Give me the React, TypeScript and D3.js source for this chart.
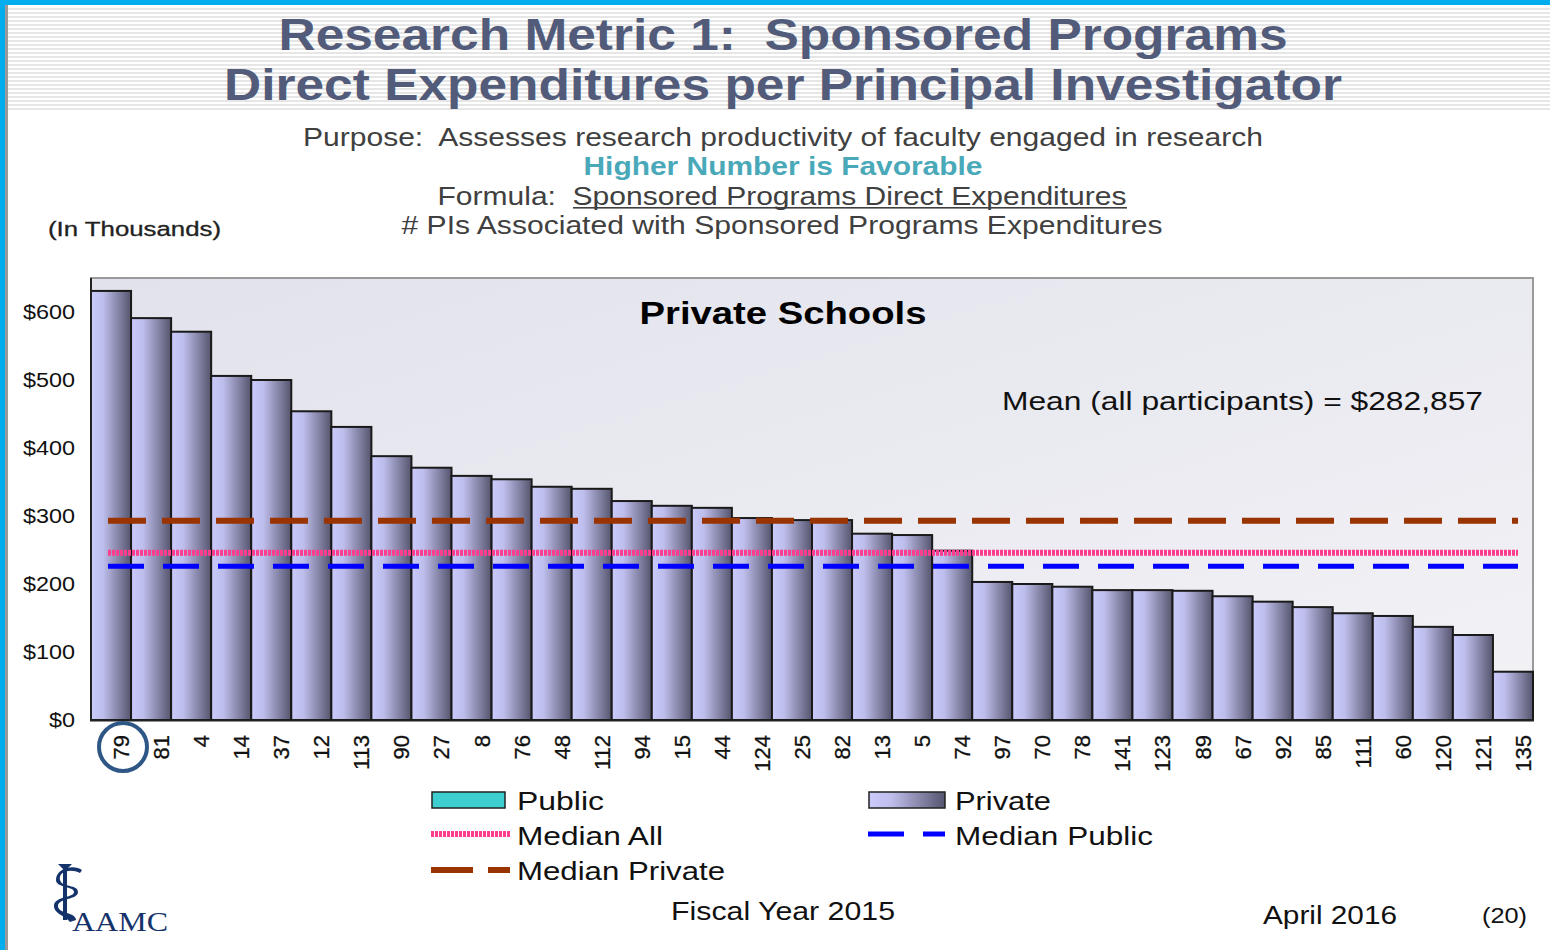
import React from 'react'
import * as d3 from 'd3'

// school ids along the x axis, values in thousands of dollars
const schools = ['79', '81', '4', '14', '37', '12', '113', '90', '27', '8', '76', '48', '112', '94', '15', '44', '124', '25', '82', '13', '5', '74', '97', '70', '78', '141', '123', '89', '67', '92', '85', '111', '60', '120', '121', '135']
const values = [631, 591, 571, 506, 500, 454, 431, 388, 371, 359, 354, 343, 340, 322, 315, 312, 297, 294, 294, 274, 272, 249, 203, 200, 196, 191, 191, 190, 182, 174, 166, 157, 153, 137, 125, 71]
const yTicks = [0, 100, 200, 300, 400, 500, 600]
const medianNames = ['Median Private', 'Median All', 'Median Public']
const medianValues = [293, 246, 226]

const FONT = '"Liberation Sans", Arial, sans-serif'

const x = d3.scaleBand<string>().domain(schools).range([91, 1533]).padding(0)
const y = d3.scaleLinear().domain([0, 650]).range([720, 278])

const lineStyle: Record<string, { color: string; width: number; dash: string }> = {
  'Median Private': { color: '#993300', width: 6, dash: '38 16' },
  'Median All': { color: '#ff3d8e', width: 6, dash: '3 1' },
  'Median Public': { color: '#0000ff', width: 5, dash: '36 19' },
}

const stripes = d3.range(8, 110, 4)
const pre = { whiteSpace: 'pre' as const }

export default function App() {
  return (
    <div style={{ position: 'absolute', left: 0, top: 0 }}>
      <svg width={1550} height={950} style={{ display: 'block', background: '#fff' }}>
        <defs>
          <linearGradient id="barGrad" x1="0" x2="1" y1="0" y2="0">
            <stop offset="0" stopColor="#cacafc" />
            <stop offset="0.3" stopColor="#bebeec" />
            <stop offset="1" stopColor="#55556e" />
          </linearGradient>
          <linearGradient id="plotGrad" x1="0" x2="1" y1="0" y2="1">
            <stop offset="0" stopColor="#e2e2ec" />
            <stop offset="1" stopColor="#f2f2f6" />
          </linearGradient>
        </defs>

        {/* header stripes and blue frame */}
        {stripes.map(s => (
          <rect key={s} x={8} y={s} width={1542} height={2} fill="#e6e6e6" />
        ))}
        <rect x={0} y={0} width={1550} height={5} fill="#00aeef" />
        <rect x={0} y={0} width={5} height={950} fill="#00aeef" />
        <rect x={5} y={5} width={3} height={945} fill="#9a9a9a" />

        {/* titles */}
        <g fontFamily={FONT} textAnchor="middle">
          <text x={783} y={50} style={pre} fontSize={44} fontWeight="bold" fill="#525c7a" textLength={1009} lengthAdjust="spacingAndGlyphs">Research Metric 1:  Sponsored Programs</text>
          <text x={783} y={100} fontSize={44} fontWeight="bold" fill="#525c7a" textLength={1118} lengthAdjust="spacingAndGlyphs">Direct Expenditures per Principal Investigator</text>
          <text x={783} y={146} style={pre} fontSize={25} fill="#404040" textLength={960} lengthAdjust="spacingAndGlyphs">Purpose:  Assesses research productivity of faculty engaged in research</text>
          <text x={783} y={175} fontSize={25} fontWeight="bold" fill="#4aa9b9" textLength={399} lengthAdjust="spacingAndGlyphs">Higher Number is Favorable</text>
          <text x={782} y={205} style={pre} fontSize={25} fill="#404040" textLength={689} lengthAdjust="spacingAndGlyphs">Formula:  Sponsored Programs Direct Expenditures</text>
          <text x={782} y={234} fontSize={25} fill="#404040" textLength={761} lengthAdjust="spacingAndGlyphs"># PIs Associated with Sponsored Programs Expenditures</text>
        </g>
        <rect x={573} y={207} width={554} height={1.6} fill="#404040" />
        <text x={48} y={236} fontFamily={FONT} fontSize={20} fill="#222" stroke="#222" strokeWidth={0.3} textLength={173} lengthAdjust="spacingAndGlyphs">(In Thousands)</text>

        {/* plot area */}
        <rect x={91} y={278} width={1442} height={442} fill="url(#plotGrad)" stroke="#9a9a9a" strokeWidth={2} />

        {values.map((v, i) => (
          <rect key={schools[i]} x={x(schools[i])} y={y(v)} width={x.bandwidth()} height={y(0) - y(v)}
            fill="url(#barGrad)" stroke="#1a1a1a" strokeWidth={2} />
        ))}
        <line x1={91} x2={91} y1={278} y2={721} stroke="#222" strokeWidth={2} />
        <line x1={90} x2={1534} y1={720.5} y2={720.5} stroke="#222" strokeWidth={2} />

        {medianNames.map((name, i) => {
          const st = lineStyle[name]
          return (
            <line key={name} x1={108} x2={1518} y1={y(medianValues[i])} y2={y(medianValues[i])}
              stroke={st.color} strokeWidth={st.width} strokeDasharray={st.dash} />
          )
        })}

        <text x={783} y={324} textAnchor="middle" fontFamily={FONT} fontSize={31} fontWeight="bold" fill="#000" textLength={287} lengthAdjust="spacingAndGlyphs">Private Schools</text>
        <text x={1002} y={410} fontFamily={FONT} fontSize={26} fill="#111" textLength={481} lengthAdjust="spacingAndGlyphs">Mean (all participants) = $282,857</text>

        {/* y axis labels */}
        {yTicks.map(t => {
          const label = '$' + t
          return (
            <text key={t} x={75} y={y(t)} dy="0.36em" textAnchor="end" fontFamily={FONT} fontSize={20} fill="#111"
              textLength={label.length * 13} lengthAdjust="spacingAndGlyphs">{label}</text>
          )
        })}

        {/* x axis labels */}
        {schools.map(s => (
          <text key={s} transform={`translate(${(x(s) ?? 0) + x.bandwidth() / 2 + 18},735) rotate(-90)`}
            textAnchor="end" fontFamily={FONT} fontSize={22} fill="#111" stroke="#111" strokeWidth={0.3}>{s}</text>
        ))}
        <circle cx={123} cy={747} r={24} fill="none" stroke="#2f5786" strokeWidth={4} />

        {/* legend */}
        <g fontFamily={FONT} fontSize={26} fill="#111">
          <rect x={432} y={792} width={73} height={16} fill="#3dcfcf" stroke="#222" strokeWidth={1.5} />
          <text x={517} y={810} textLength={87} lengthAdjust="spacingAndGlyphs">Public</text>
          <rect x={869} y={792} width={76} height={16} fill="url(#barGrad)" stroke="#222" strokeWidth={1.5} />
          <text x={955} y={810} textLength={96} lengthAdjust="spacingAndGlyphs">Private</text>
          <line x1={431} x2={510} y1={834} y2={834} stroke={lineStyle['Median All'].color} strokeWidth={6} strokeDasharray="3 1" />
          <text x={517} y={845} textLength={146} lengthAdjust="spacingAndGlyphs">Median All</text>
          <line x1={868} x2={945} y1={834} y2={834} stroke={lineStyle['Median Public'].color} strokeWidth={5} strokeDasharray="36 19" />
          <text x={955} y={845} textLength={198} lengthAdjust="spacingAndGlyphs">Median Public</text>
          <line x1={431} x2={510} y1={870} y2={870} stroke={lineStyle['Median Private'].color} strokeWidth={6} strokeDasharray="42 15" />
          <text x={517} y={880} textLength={208} lengthAdjust="spacingAndGlyphs">Median Private</text>
        </g>

        {/* footer */}
        <g fontFamily={FONT} fill="#111">
          <text x={671} y={920} fontSize={26} textLength={224} lengthAdjust="spacingAndGlyphs">Fiscal Year 2015</text>
          <text x={1263} y={924} fontSize={26} textLength={134} lengthAdjust="spacingAndGlyphs">April 2016</text>
          <text x={1482} y={923} fontSize={22} textLength={45} lengthAdjust="spacingAndGlyphs">(20)</text>
        </g>

        {/* AAMC logo */}
        <g fill="#15336b" stroke="none">
          <path d="M58,864 L72,864 L65,871 Z" />
          <rect x={63} y={870} width={4} height={50} />
          <path d="M80,873 C70,868 58,872 60,880 C62,888 78,884 78,892 C78,900 58,898 58,906 C58,914 76,912 76,920 L70,922 C66,916 54,914 54,906 C54,896 74,898 74,892 C74,886 56,888 56,880 C56,868 74,864 82,870 Z" />
        </g>
        <text x={72} y={931} fontFamily='"Liberation Serif", "DejaVu Serif", serif' fontSize={27} fill="#15336b" textLength={96} lengthAdjust="spacingAndGlyphs">AAMC</text>
      </svg>
    </div>
  )
}
